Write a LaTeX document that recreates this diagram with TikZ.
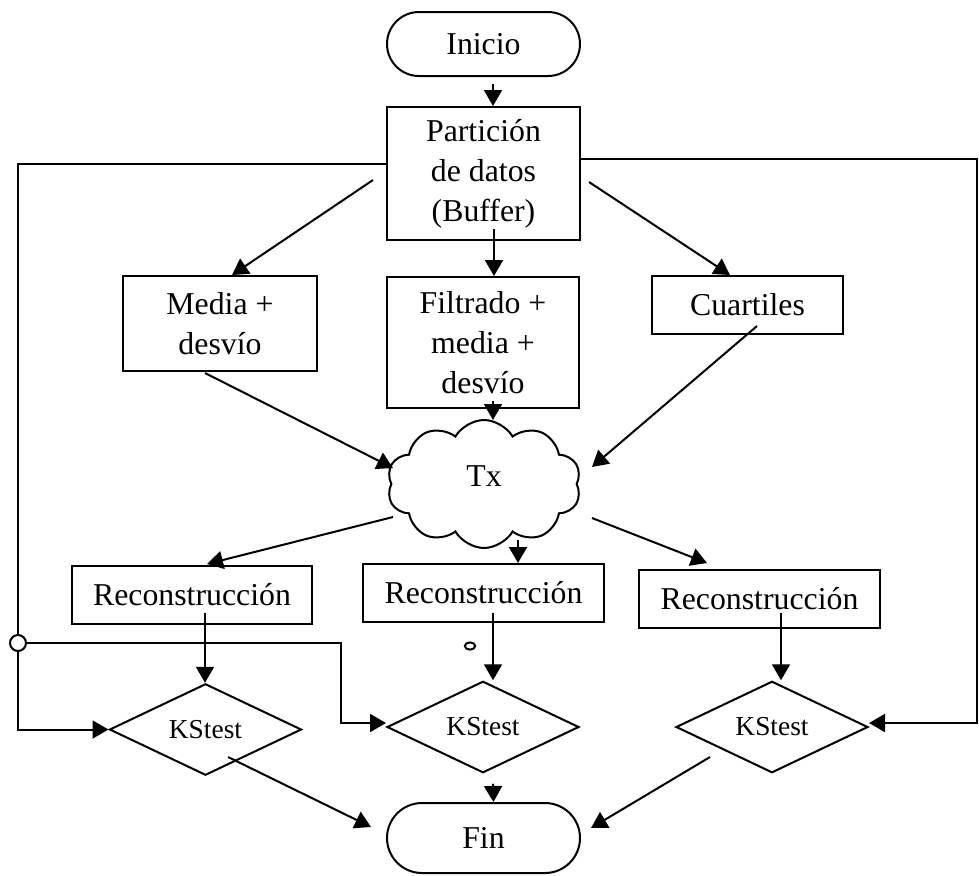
\documentclass[tikz,border=0pt]{standalone}
\usepackage{fontspec}
\setmainfont{Liberation Serif}
\usetikzlibrary{arrows.meta,shapes.geometric,shapes.misc,shapes.symbols}

\begin{document}
\begin{tikzpicture}[
	x=0.5pt, y=-0.5pt,
	line width=1pt,
	arr/.style = {draw, -{Triangle[length=8pt,width=9pt]}},
	every node/.style = {draw, inner sep=0pt, align=center, font=\fontsize{15.9}{20}\selectfont},
	term/.style = {rounded rectangle, minimum width=96.5pt, minimum height=32pt},
	decision/.style = {diamond, minimum width=96pt, minimum height=43pt, font=\fontsize{13.7}{16}\selectfont}
	]
	\useasboundingbox (0,0) rectangle (979,875);
	
	% Start and buffer
	\node[term] (inicio) at (483.5,44) {Inicio};
	\node[minimum width=96.5pt, minimum height=66.5pt] (part) at (483.5,173.5) {Partición\\de datos\\(Buffer)};
	
	% Three statistics
	\node[minimum width=97pt, minimum height=47.5pt] (media) at (220,323.5) {Media +\\desvío};
	\node[minimum width=96pt, minimum height=65.5pt] (filt) at (483,342.5) {Filtrado +\\media +\\desvío};
	\node[minimum width=95.5pt, minimum height=29pt] (cuart) at (747.5,305) {Cuartiles};
	
	% Transmission
	\node[cloud, cloud puffs=10, cloud puff arc=120, minimum width=97pt, minimum height=64pt] (tx) at (484,484) {\raisebox{8pt}{Tx}};
	
	% Reconstruction
	\node[minimum width=120pt, minimum height=29pt] (rec1) at (192,595) {Reconstrucción};
	\node[minimum width=120.5pt, minimum height=29pt] (rec2) at (483.5,593) {Reconstrucción};
	\node[minimum width=120.5pt, minimum height=29pt] (rec3) at (759.5,599) {Reconstrucción};
	
	% Tests and end
	\node[decision] (ks1) at (205.5,729.5) {KStest};
	\node[decision] (ks2) at (483,727) {KStest};
	\node[decision] (ks3) at (772,727) {KStest};
	\node[term, minimum height=35pt] (fin) at (483.5,838) {Fin};
	
	\node[circle, minimum size=8pt] (junc) at (18,643) {};
	\coordinate (lcorner) at (18,164);
	\coordinate (rcorner) at (977,159);
	\coordinate (bend) at (341,643);
	\draw (470,646) ellipse [x radius=2.6pt, y radius=1.8pt];
	
	% Arrows
	\draw[arr] ([shift={(9.5,7)}]inicio.south) -- ([shift={(9.5,0)}]part.north);
	\draw[arr] ([shift={(-13,6.5)}]part.west) -- ([shift={(12,0)}]media.north);
	\draw[arr] ([shift={(10.5,-12)}]part.south) -- ([shift={(11,0)}]filt.north);
	\draw[arr] ([shift={(8,8.5)}]part.east) -- ([shift={(-17.5,0)}]cuart.north);
	
	\draw[arr] ([shift={(-15,1)}]media.south) -- ([shift={(-91,-16)}]tx.center);
	\draw[arr] ([shift={(10,-8)}]filt.south) -- ([shift={(9,-64)}]tx.center);
	\draw[arr] ([shift={(9.5,-9)}]cuart.south) -- ([shift={(108,-17)}]tx.center);
	
	\draw[arr] ([shift={(-91,33)}]tx.center) -- ([shift={(15,-1)}]rec1.north);
	\draw[arr] ([shift={(34,56)}]tx.center) -- ([shift={(34.5,0)}]rec2.north);
	\draw[arr] ([shift={(108,34)}]tx.center) -- ([shift={(-52.5,-6)}]rec3.north);
	
	\draw[arr] ([shift={(13,-12)}]rec1.south) -- ([shift={(-0.5,0)}]ks1.north);
	\draw[arr] ([shift={(9.5,-10)}]rec2.south) -- ([shift={(10,0)}]ks2.north);
	\draw[arr] ([shift={(21.5,-16)}]rec3.south) -- ([shift={(9,0)}]ks3.north);
	
	\draw[arr] ([shift={(22.5,27.5)}]ks1.center) -- ([shift={(-15,-11)}]fin.west);
	\draw[arr] ([shift={(10,10)}]ks2.south) -- ([shift={(10,0)}]fin.north);
	\draw[arr] ([shift={(-62,30)}]ks3.center) -- ([shift={(10,-10)}]fin.east);
	
	% Feedback lines
	\draw ([shift={(0,-9.5)}]part.west) -- (lcorner) -- (junc);
	\draw[arr] (junc) |- (ks1.west);
	\draw[arr] (junc) -- (bend) |- ([shift={(0,-4)}]ks2.west);
	\draw[arr] ([shift={(0,-14.5)}]part.east) -- (rcorner) |- ([shift={(0,-4)}]ks3.east);
	
\end{tikzpicture}
\end{document}
